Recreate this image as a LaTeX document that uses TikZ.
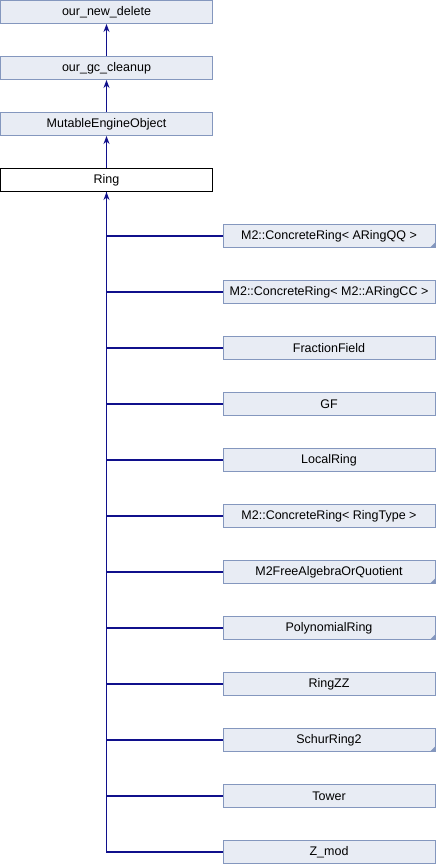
\documentclass[tikz,border=0pt]{standalone}
\usepackage{fontspec}
\setmainfont{Liberation Sans}
\usetikzlibrary{arrows.meta}
\definecolor{boxfill}{HTML}{E8ECF4}
\definecolor{boxline}{HTML}{8497BE}
\definecolor{edge}{HTML}{10108C}
\definecolor{foldc}{HTML}{8497BE}
\begin{document}
\begin{tikzpicture}[x=1pt,y=-1pt,
  cls/.style={draw=boxline,fill=boxfill,line width=1pt,minimum width=212pt,minimum height=23pt,inner sep=0pt,font=\fontsize{12.5}{14}\selectfont},
  cur/.style={draw=black,fill=white,line width=1pt,minimum width=212pt,minimum height=23pt,inner sep=0pt,font=\fontsize{12.5}{14}\selectfont},
  inh/.style={draw=edge,line width=1.2pt,-{Stealth[length=8pt,width=6pt]}},
  link/.style={draw=edge,line width=1.2pt}]
\useasboundingbox (0,0) rectangle (436,864);
\node[cls] (nd) at (106.5,12) {our\_new\_delete};
\node[cls] (gc) at (106.5,68) {our\_gc\_cleanup};
\node[cls] (meo) at (106.5,124) {MutableEngineObject};
\node[cur] (ring) at (106.5,180) {Ring};
\node[cls] (c1) at (329,236) {M2::ConcreteRing< ARingQQ >};
\node[cls] (c2) at (329,292) {M2::ConcreteRing< M2::ARingCC >};
\node[cls] (c3) at (329,348) {FractionField};
\node[cls] (c4) at (329,404) {GF};
\node[cls] (c5) at (329,460) {LocalRing};
\node[cls] (c6) at (329,516) {M2::ConcreteRing< RingType >};
\node[cls] (c7) at (329,572) {M2FreeAlgebraOrQuotient};
\node[cls] (c8) at (329,628) {PolynomialRing};
\node[cls] (c9) at (329,684) {RingZZ};
\node[cls] (c10) at (329,740) {SchurRing2};
\node[cls] (c11) at (329,796) {Tower};
\node[cls] (c12) at (329,852) {Z\_mod};
\foreach \n in {c1,c7,c8,c10}{
  \fill[foldc] ([xshift=-0.5pt,yshift=0.5pt]\n.south east) -- ++(0,-5) -- ++(-5,5) -- cycle;
}
\draw[inh] (gc) -- (nd);
\draw[inh] (meo) -- (gc);
\draw[inh] (ring) -- (meo);
\foreach \n in {c1,c2,c3,c4,c5,c6,c7,c8,c9,c10,c11,c12}{
  \draw[link] (\n.west) -| (ring.south);
}
\draw[inh] (c12.west) -| (ring.south);
\end{tikzpicture}
\end{document}
